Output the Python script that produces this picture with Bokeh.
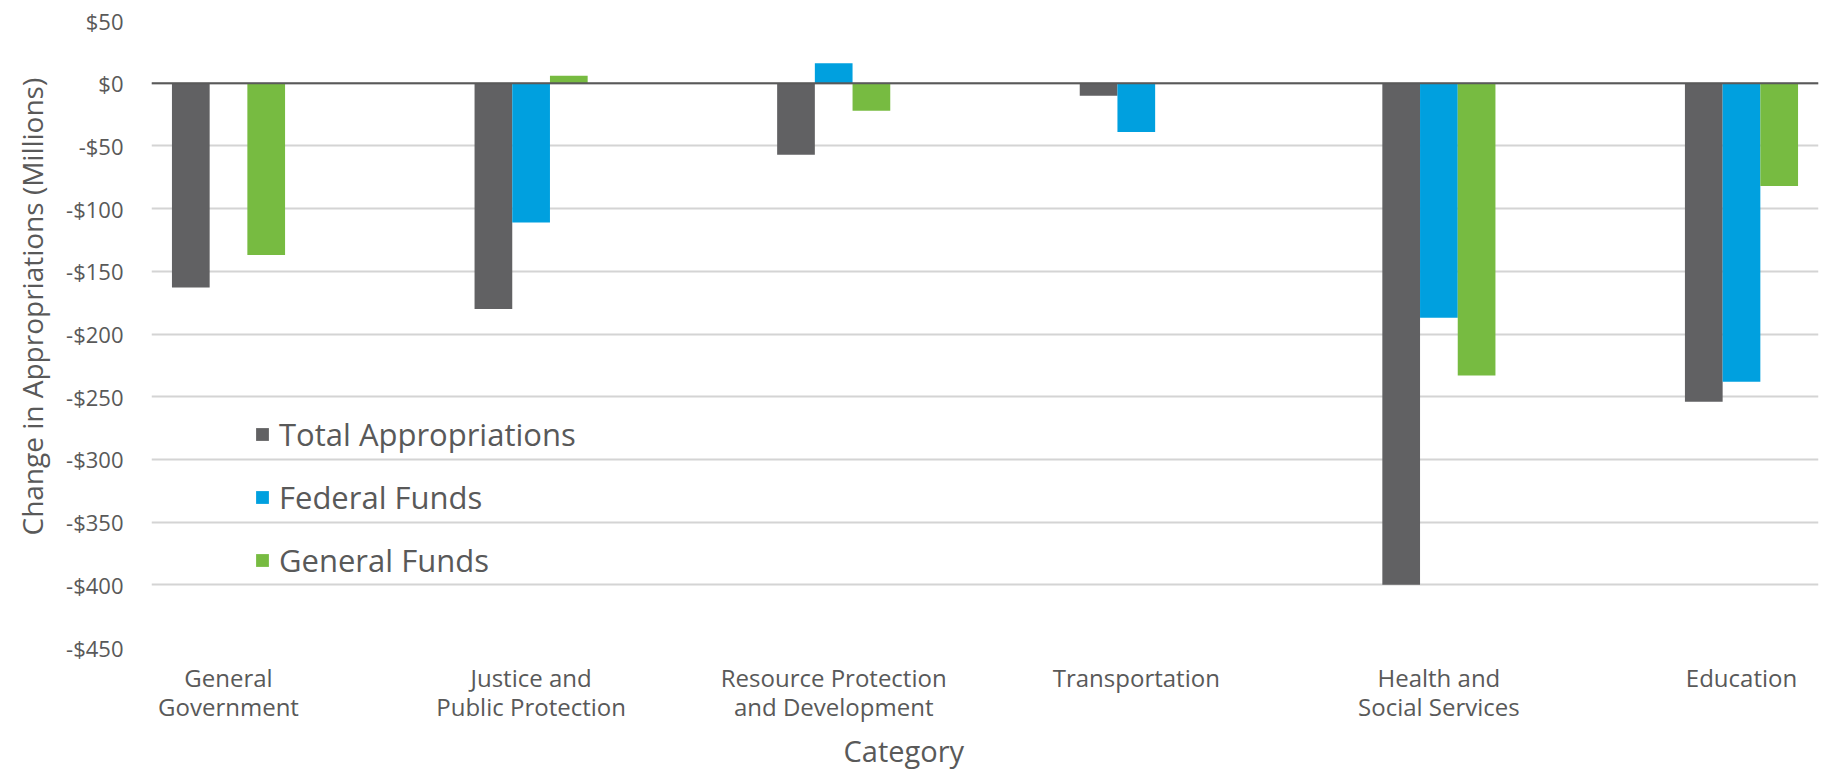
from bokeh.plotting import figure
from bokeh.models import (ColumnDataSource, Range1d, FixedTicker, Legend, LegendItem,
                          Span, Title)
from bokeh.transform import dodge
from bokeh.embed import file_html
from bokeh.resources import INLINE

# Change in appropriations by category, $ millions
categories = ["General\nGovernment", "Justice and\nPublic Protection",
              "Resource Protection\nand Development", "Transportation",
              "Health and\nSocial Services", "Education"]
total_appropriations = [-163, -180, -57, -10, -400, -254]
federal_funds = [0, -111, 16, -39, -187, -238]
general_funds = [-137, 6, -22, 0, -233, -82]

series_names = ["Total Appropriations", "Federal Funds", "General Funds"]
series_colors = ["#616163", "#00A0DF", "#77BB41"]

y_ticks = [50, 0, -50, -100, -150, -200, -250, -300, -350, -400, -450]
y_tick_labels = ["$50", "$0", "-$50", "-$100", "-$150", "-$200", "-$250",
                 "-$300", "-$350", "-$400", "-$450"]

FONT = "Open Sans"
TEXT = "#595959"

source = ColumnDataSource(dict(
    xi=list(range(len(categories))),
    total=total_appropriations,
    federal=federal_funds,
    general=general_funds,
))

p = figure(width=1824, height=778, output_backend="svg", toolbar_location=None,
           x_range=Range1d(-0.2545, 5.2545), y_range=Range1d(-450, 50),
           min_border_left=151, min_border_right=6, min_border_top=20,
           min_border_bottom=131)
p.outline_line_color = None
p.background_fill_color = "white"
p.border_fill_color = "white"

bar_w = 0.1246
renderers = []
for col, off, color in zip(["total", "federal", "general"],
                           [-bar_w, 0.0, bar_w], series_colors):
    r = p.vbar(x=dodge("xi", off), top=col, bottom=0, width=bar_w, source=source,
               fill_color=color, line_color=None)
    renderers.append(r)

# zero baseline
p.add_layout(Span(location=0, dimension="width", line_color="#595959", line_width=2))

# axes
p.xaxis.ticker = FixedTicker(ticks=list(range(len(categories))))
p.xaxis.major_label_overrides = {i: c for i, c in enumerate(categories)}
p.yaxis.ticker = FixedTicker(ticks=y_ticks)
p.yaxis.major_label_overrides = dict(zip(y_ticks, y_tick_labels))
for ax in (p.xaxis, p.yaxis):
    ax.axis_line_color = None
    ax.major_tick_line_color = None
    ax.minor_tick_line_color = None
    ax.major_label_text_font = FONT
    ax.major_label_text_color = TEXT
p.xaxis.major_label_text_font_size = "24px"
p.xaxis.major_label_text_line_height = 0.89
p.yaxis.major_label_text_font_size = "22px"
p.xaxis.major_label_standoff = 7
p.yaxis.major_label_standoff = 22

p.xgrid.grid_line_color = None
p.ygrid.grid_line_color = "#D4D4D4"
p.ygrid.grid_line_width = 2

# axis titles
p.add_layout(Title(text="Change in Appropriations (Millions)", align="left",
                   offset=112, standoff=22, vertical_align="top",
                   text_font=FONT, text_font_size="28px", text_font_style="normal",
                   text_color=TEXT), "left")
p.add_layout(Title(text="Category", align="left", offset=692, standoff=11,
                   vertical_align="top", text_font=FONT, text_font_size="29px",
                   text_font_style="normal", text_color=TEXT), "below")

legend = Legend(items=[LegendItem(label=n, renderers=[r])
                       for n, r in zip(series_names, renderers)],
                location=(103, 66), orientation="vertical",
                glyph_width=16, glyph_height=16, label_height=36, spacing=21,
                label_standoff=9, padding=0, margin=0,
                label_text_font=FONT, label_text_font_size="31px",
                label_text_color=TEXT, background_fill_alpha=0,
                border_line_color=None)
p.add_layout(legend)

open("out.html", "w").write(file_html(p, INLINE))
